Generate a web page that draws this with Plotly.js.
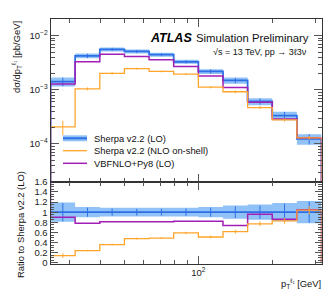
<!DOCTYPE html>
<html><head><meta charset="utf-8">
<script src="https://cdn.plot.ly/plotly-3.0.1.min.js"></script>
<style>html,body{margin:0;padding:0;background:#fff;} #chart{width:333px;height:291px;}</style>
</head><body><div id="chart"></div>
<script>
// ---- data ----
const binEdges = [25.1, 31.6, 39.8, 50.1, 63.1, 79.4, 100, 125.9, 158.5, 199.5, 251.2, 316.2];
const sherpaLO = [1.42e-3, 4.25e-3, 5.6e-3, 5.12e-3, 4.46e-3, 3.3e-3, 2.19e-3, 1.49e-3, 6.1e-4, 3.34e-4, 1.24e-4];
const sherpaLOStatRel = [0.18, 0.09, 0.07, 0.065, 0.065, 0.07, 0.09, 0.115, 0.13, 0.17, 0.21];
const sherpaLOBandRel = [0.19, 0.10, 0.085, 0.085, 0.085, 0.085, 0.10, 0.13, 0.15, 0.18, 0.22];
const sherpaNLO = [2.06e-4, 1.04e-3, 2.02e-3, 2.46e-3, 2.19e-3, 1.95e-3, 1.12e-3, 9.2e-4, 4.7e-4, 2.77e-4, 1.29e-4];
const sherpaNLOStatRel = [0.30, 0.06, 0.05, 0.04, 0.04, 0.04, 0.05, 0.06, 0.06, 0.07, 0.08];
const vbfnlo = [1.28e-3, 3.32e-3, 4.54e-3, 4.15e-3, 3.61e-3, 2.71e-3, 1.80e-3, 1.10e-3, 5.86e-4, 2.87e-4, 1.30e-4];
const seriesNames = ['Sherpa v2.2 (LO)', 'Sherpa v2.2 (NLO on-shell)', 'VBFNLO+Py8 (LO)'];
const yTickVals = [1e-4, 1e-3, 1e-2];
const yTickText = ['10<sup>\u22124</sup>', '10<sup>\u22123</sup>', '10<sup>\u22122</sup>'];
const xTickVals = [100];
const xTickText = ['10<sup>2</sup>'];
const ratioTickVals = [0, 0.2, 0.4, 0.6, 0.8, 1, 1.2, 1.4, 1.6];
const ratioTickText = ['0', '0.2', '0.4', '0.6', '0.8', '1', '1.2', '1.4', '1.6'];

// ---- styles ----
const cBlue = '#2f6fe6', cBand = '#90c2f8', cOrange = '#ffa52a', cPurple = '#a21fb6';
const FONT = 'Liberation Sans, Arial, Helvetica, sans-serif';

const centers = binEdges.slice(0, -1).map((e, i) => Math.sqrt(e * binEdges[i + 1]));
function step(vals, startY, endY) {
  const x = [], y = [];
  if (startY !== undefined) { x.push(binEdges[0]); y.push(startY); }
  vals.forEach((v, i) => { x.push(binEdges[i]); y.push(v); });
  x.push(binEdges[binEdges.length - 1]); y.push(vals[vals.length - 1]);
  if (endY !== undefined) { x.push(binEdges[binEdges.length - 1]); y.push(endY); }
  return {x, y};
}
const loUp = sherpaLO.map((v, i) => v * (1 + sherpaLOBandRel[i]));
const loDn = sherpaLO.map((v, i) => v * (1 - sherpaLOBandRel[i]));
const ones = sherpaLO.map(() => 1);
const rUp = sherpaLOBandRel.map(b => 1 + b);
const rDn = sherpaLOBandRel.map(b => 1 - b);
const rNLO = sherpaNLO.map((v, i) => v / sherpaLO[i]);
const rVBF = vbfnlo.map((v, i) => v / sherpaLO[i]);
const tiny = 1e-8;

function line(s, color, w, xa, ya, extra) {
  return Object.assign({x: s.x, y: s.y, mode: 'lines', line: {shape: 'hv', color: color, width: w},
    xaxis: xa, yaxis: ya, hoverinfo: 'skip', showlegend: false}, extra || {});
}
function errs(vals, rel, color, xa, ya) {
  return {x: centers, y: vals, mode: 'markers', marker: {size: 1, color: color, opacity: 0},
    error_y: {type: 'data', array: vals.map((v, i) => v * rel[i]), color: color, thickness: 1, width: 0},
    xaxis: xa, yaxis: ya, hoverinfo: 'skip', showlegend: false};
}

const traces = [
  // top panel
  line(step(loDn), cBand, 0, 'x', 'y'),
  line(step(loUp), cBand, 0, 'x', 'y', {fill: 'tonexty', fillcolor: cBand}),
  line(step(sherpaLO, tiny, tiny), cBlue, 1.8, 'x', 'y', {name: seriesNames[0]}),
  errs(sherpaLO, sherpaLOStatRel, cBlue, 'x', 'y'),
  line(step(vbfnlo, tiny, tiny), cPurple, 1.5, 'x', 'y', {name: seriesNames[2]}),
  line(step(sherpaNLO, tiny, tiny), cOrange, 1.3, 'x', 'y', {name: seriesNames[1]}),
  errs(sherpaNLO, sherpaNLOStatRel, cOrange, 'x', 'y'),
  // ratio panel
  line(step(rDn), cBand, 0, 'x2', 'y2'),
  line(step(rUp), cBand, 0, 'x2', 'y2', {fill: 'tonexty', fillcolor: cBand}),
  line(step(ones), cBlue, 1.8, 'x2', 'y2'),
  errs(ones, sherpaLOStatRel, cBlue, 'x2', 'y2'),
  line(step(rVBF, 2, 0), cPurple, 1.5, 'x2', 'y2'),
  line(step(rNLO, undefined, 0), cOrange, 1.3, 'x2', 'y2'),
  errs(rNLO, sherpaNLOStatRel, cOrange, 'x2', 'y2')
];

function logMinor(lo, hi) {
  const out = [];
  for (let d = lo; d <= hi; d++) for (let k = 2; k <= 9; k++) out.push(k * Math.pow(10, d));
  return out;
}
const W = 333, H = 291;
const px = v => v / W, py = v => 1 - v / H;
const xDom = [px(50.5), px(321.5)];
const topDom = [py(181.7), py(19)];
const ratDom = [py(264), py(181.7)];
const axCommon = {showline: true, linecolor: '#333', linewidth: 1, mirror: 'allticks', ticks: 'inside',
  tickcolor: '#555', tickwidth: 1, showgrid: false, zeroline: false,
  tickfont: {family: FONT, size: 9.5, color: '#222'}};

const xMinor = {tickmode: 'array', tickvals: [30, 40, 50, 60, 70, 80, 90, 200, 300], ticklen: 4, tickcolor: '#555', ticks: 'inside'};
const layout = {
  width: W, height: H, autosize: false,
  margin: {l: 0, r: 0, t: 0, b: 0, pad: 0},
  paper_bgcolor: '#fff', plot_bgcolor: '#fff', showlegend: false,
  font: {family: FONT, size: 9.5, color: '#222'},
  xaxis: Object.assign({}, axCommon, {type: 'log', domain: xDom, range: [Math.log10(binEdges[0]), Math.log10(binEdges[11])],
    anchor: 'y', tickmode: 'array', tickvals: xTickVals, ticktext: xTickText, ticklen: 8, showticklabels: false,
    minor: xMinor, matches: 'x2'}),
  xaxis2: Object.assign({}, axCommon, {type: 'log', domain: xDom, range: [Math.log10(binEdges[0]), Math.log10(binEdges[11])],
    anchor: 'y2', tickmode: 'array', tickvals: xTickVals, ticktext: xTickText, ticklen: 8, minor: xMinor}),
  yaxis: Object.assign({}, axCommon, {type: 'log', domain: topDom, range: [-4.7, -1.69], anchor: 'x',
    tickmode: 'array', tickvals: yTickVals, ticktext: yTickText, ticklen: 8,
    minor: {tickmode: 'array', tickvals: logMinor(-5, -2), ticklen: 4, tickcolor: '#555', ticks: 'inside'}}),
  yaxis2: Object.assign({}, axCommon, {domain: ratDom, range: [-0.02, 1.6], anchor: 'x2',
    tickmode: 'array', tickvals: ratioTickVals, ticktext: ratioTickText, ticklen: 7,
    minor: {dtick: 0.05, tick0: 0, ticklen: 3.5, tickcolor: '#555', ticks: 'inside'}}),
  shapes: [
    {type: 'rect', xref: 'paper', yref: 'paper', x0: px(63), x1: px(87), y0: py(141.3), y1: py(135.3), fillcolor: cBand, line: {width: 0}},
    {type: 'line', xref: 'paper', yref: 'paper', x0: px(63), x1: px(87), y0: py(138.3), y1: py(138.3), line: {color: cBlue, width: 2}},
    {type: 'line', xref: 'paper', yref: 'paper', x0: px(63), x1: px(87), y0: py(150.7), y1: py(150.7), line: {color: cOrange, width: 1.3}},
    {type: 'line', xref: 'paper', yref: 'paper', x0: px(63), x1: px(87), y0: py(163.3), y1: py(163.3), line: {color: cPurple, width: 1.5}}
  ],
  annotations: [
    {text: '<b><i>ATLAS</i></b>', xref: 'paper', yref: 'paper', x: px(148), y: py(38.5), xanchor: 'left', yanchor: 'middle', showarrow: false, font: {family: FONT, size: 12.5, color: '#000'}},
    {text: 'Simulation Preliminary', xref: 'paper', yref: 'paper', x: px(194), y: py(38.5), xanchor: 'left', yanchor: 'middle', showarrow: false, font: {family: FONT, size: 11.3, color: '#111'}},
    {text: '\u221As = 13 TeV, pp \u2192 3\u21133\u03BD', xref: 'paper', yref: 'paper', x: px(309), y: py(51.7), xanchor: 'right', yanchor: 'middle', showarrow: false, font: {family: FONT, size: 9, color: '#111'}},
    {text: seriesNames[0], xref: 'paper', yref: 'paper', x: px(92), y: py(138.3), xanchor: 'left', yanchor: 'middle', showarrow: false, font: {family: FONT, size: 9.4, color: '#111'}},
    {text: seriesNames[1], xref: 'paper', yref: 'paper', x: px(92), y: py(150.7), xanchor: 'left', yanchor: 'middle', showarrow: false, font: {family: FONT, size: 9.4, color: '#111'}},
    {text: seriesNames[2], xref: 'paper', yref: 'paper', x: px(92), y: py(163.3), xanchor: 'left', yanchor: 'middle', showarrow: false, font: {family: FONT, size: 9.4, color: '#111'}},
    {text: 'd\u03C3/dp<sub>T</sub><sup>\u2113\u2081</sup> [pb/GeV]', xref: 'paper', yref: 'paper', x: px(16), y: py(19), xanchor: 'center', yanchor: 'top', textangle: -90, showarrow: false, font: {family: FONT, size: 9.4, color: '#111'}},
    {text: 'Ratio to Sherpa v2.2 (LO)', xref: 'paper', yref: 'paper', x: px(20), y: py(225), xanchor: 'center', yanchor: 'middle', textangle: -90, showarrow: false, font: {family: FONT, size: 9.4, color: '#111'}},
    {text: 'p<sub>T</sub><sup>\u2113\u2081</sup> [GeV]', xref: 'paper', yref: 'paper', x: px(323), y: py(283), xanchor: 'right', yanchor: 'middle', showarrow: false, font: {family: FONT, size: 9.4, color: '#111'}}
  ]
};
Plotly.newPlot('chart', traces, layout, {staticPlot: true, displayModeBar: false});
</script></body></html>
